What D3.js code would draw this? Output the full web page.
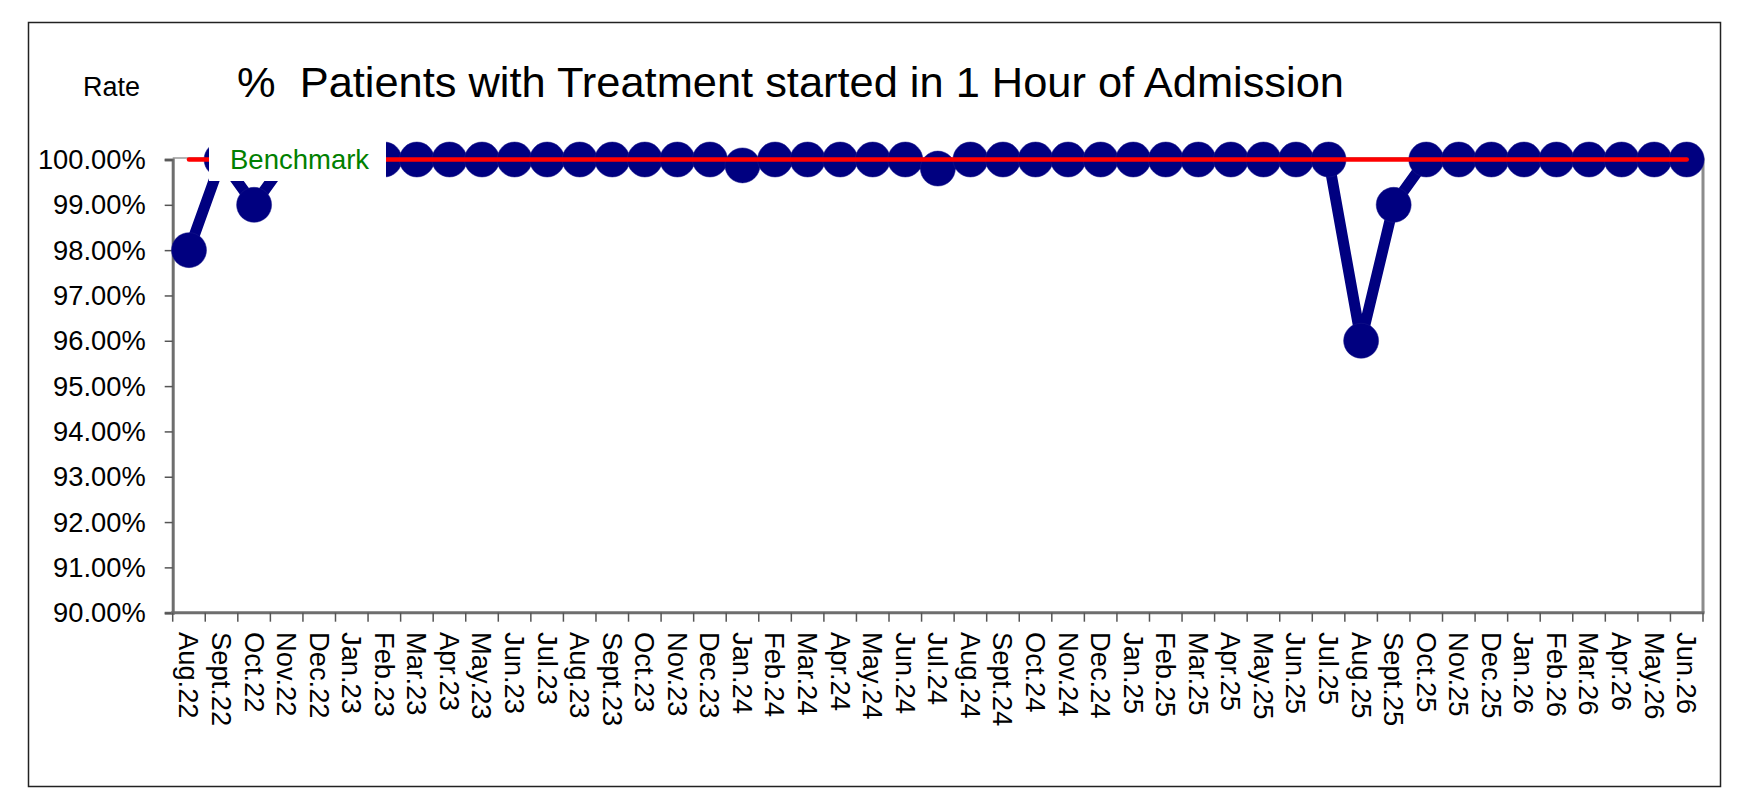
<!DOCTYPE html>
<html>
<head>
<meta charset="utf-8">
<script src="https://cdn.jsdelivr.net/npm/d3@7"></script>
<style>
  html, body { margin: 0; padding: 0; background: #fff; }
  svg { display: block; font-family: "Liberation Sans", Arial, sans-serif; }
</style>
</head>
<body>
<svg id="chart" width="1752" height="808"></svg>
<script>
const months = ["Aug.22","Sept.22","Oct.22","Nov.22","Dec.22","Jan.23","Feb.23","Mar.23","Apr.23","May.23","Jun.23","Jul.23","Aug.23","Sept.23","Oct.23","Nov.23","Dec.23","Jan.24","Feb.24","Mar.24","Apr.24","May.24","Jun.24","Jul.24","Aug.24","Sept.24","Oct.24","Nov.24","Dec.24","Jan.25","Feb.25","Mar.25","Apr.25","May.25","Jun.25","Jul.25","Aug.25","Sept.25","Oct.25","Nov.25","Dec.25","Jan.26","Feb.26","Mar.26","Apr.26","May.26","Jun.26"];
const rates = [98,100,99,100,100,100,100,100,100,100,100,100,100,100,100,100,100,99.87,100,100,100,100,100,99.8,100,100,100,100,100,100,100,100,100,100,100,100,96,99,100,100,100,100,100,100,100,100,100];
const benchmark = months.map(() => 100);
const yTicks = [90,91,92,93,94,95,96,97,98,99,100];
const titleText = "%  Patients with Treatment started in 1 Hour of Admission";
const yLabel = "Rate";
const benchLabel = "Benchmark";

const svg = d3.select("#chart");
const L = 172.7, R = 1703, T = 159.5, B = 612.7;

const x = d3.scaleBand().domain(months).range([L, R]).padding(0);
const y = d3.scaleLinear().domain([90, 100]).range([B, T]);
const cx = m => x(m) + x.bandwidth() / 2;

// outer frame
svg.append("rect").attr("x", 28.5).attr("y", 22.5).attr("width", 1692).attr("height", 764)
  .attr("fill", "#fff").attr("stroke", "#222").attr("stroke-width", 1.5);

// plot area border (top + right)
svg.append("line").attr("x1", L).attr("x2", R).attr("y1", y(100) - 1.5).attr("y2", y(100) - 1.5)
  .attr("stroke", "#9a9a9a").attr("stroke-width", 1.5);
svg.append("line").attr("x1", R).attr("x2", R).attr("y1", y(100) - 2).attr("y2", B)
  .attr("stroke", "#8c8c8c").attr("stroke-width", 3);

// y axis
const yAxis = d3.axisLeft(y).tickValues(yTicks).tickFormat(d => d.toFixed(2) + "%").tickSize(8).tickPadding(19);
const ya = svg.append("g").attr("transform", `translate(${L},0)`).call(yAxis);
ya.select(".domain").attr("stroke", "#6e6e6e").attr("stroke-width", 3);
ya.selectAll(".tick line").attr("stroke", "#555").attr("stroke-width", 1.5);
ya.selectAll(".tick text").attr("font-size", 27.3).attr("fill", "#000").attr("dy", "0.33em")
  .attr("font-family", "'Liberation Sans', Arial, sans-serif");

// x axis line
svg.append("line").attr("x1", L - 1.5).attr("x2", R + 1.5).attr("y1", B).attr("y2", B)
  .attr("stroke", "#6e6e6e").attr("stroke-width", 3);
// x ticks at category boundaries
const bounds = months.map(m => x(m)).concat([x.range()[1]]);
svg.append("g").selectAll("line").data(bounds).join("line")
  .attr("x1", d => d).attr("x2", d => d).attr("y1", B).attr("y2", B + 9)
  .attr("stroke", "#555").attr("stroke-width", 1.5);
// x labels
svg.append("g").selectAll("text").data(months).join("text")
  .attr("transform", d => `translate(${cx(d)},632) rotate(90)`)
  .attr("dy", "0.35em").attr("text-anchor", "start")
  .attr("font-size", 27.3).attr("fill", "#000").text(d => d);

// data line
const line = d3.line().x((d, i) => cx(months[i])).y(d => y(d));
svg.append("path").datum(rates).attr("d", line)
  .attr("fill", "none").attr("stroke", "#000080").attr("stroke-width", 11).attr("stroke-linejoin", "round");
svg.append("g").selectAll("circle").data(rates).join("circle")
  .attr("cx", (d, i) => cx(months[i])).attr("cy", d => y(d)).attr("r", 17.5)
  .attr("fill", "#000080").attr("stroke", "#1a1a8a").attr("stroke-width", 0.5);

// benchmark line
svg.append("path").datum(benchmark).attr("d", line)
  .attr("fill", "none").attr("stroke", "#ff0000").attr("stroke-width", 4.5).attr("stroke-linecap", "round");

// benchmark label
svg.append("rect").attr("x", 209).attr("y", 128).attr("width", 177).attr("height", 53).attr("fill", "#fff");
svg.append("text").attr("x", 230).attr("y", 169).attr("font-size", 27.5).attr("fill", "#008000").text(benchLabel);

// title & y label
svg.append("text").attr("x", 237).attr("y", 97).attr("font-size", 43.4).attr("fill", "#000")
  .attr("xml:space", "preserve").style("white-space", "pre").text(titleText);
svg.append("text").attr("x", 140).attr("y", 96).attr("text-anchor", "end").attr("font-size", 27)
  .attr("fill", "#000").text(yLabel);
</script>
</body>
</html>
